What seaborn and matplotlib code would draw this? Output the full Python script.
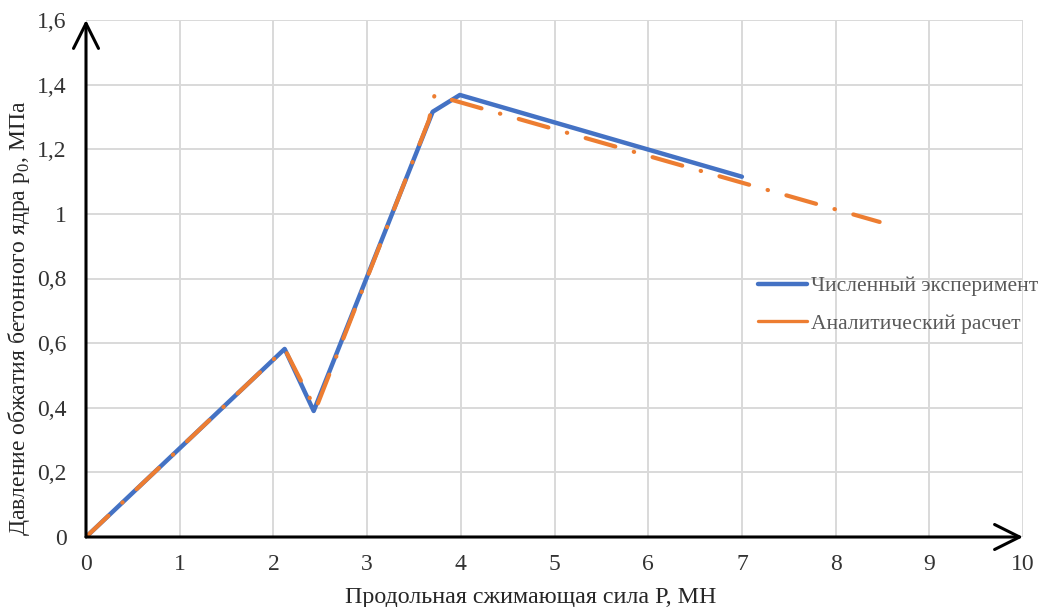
import matplotlib
matplotlib.use('Agg')
import pandas as pd
import matplotlib.pyplot as plt
from matplotlib.lines import Line2D
import seaborn as sns

# данные
num_x = [0, 2.12, 2.43, 3.70, 3.99, 7.0]
num_y = [0, 0.582, 0.39, 1.316, 1.368, 1.115]
an_x = [0, 2.12, 2.45, 3.66, 3.72, 8.47]
an_y = [0, 0.582, 0.395, 1.29, 1.368, 0.975]
x_ticks = [0, 1, 2, 3, 4, 5, 6, 7, 8, 9, 10]
y_ticks = [0, 0.2, 0.4, 0.6, 0.8, 1.0, 1.2, 1.4, 1.6]
y_tick_labels = ['0', '0,2', '0,4', '0,6', '0,8', '1', '1,2', '1,4', '1,6']

sns.set_theme(style='white')
plt.rcParams['font.family'] = ['Liberation Serif', 'DejaVu Serif']
plt.rcParams['mathtext.fontset'] = 'custom'
plt.rcParams['mathtext.rm'] = 'Liberation Serif'

blue = '#4472C4'
orange = '#ED7D31'

num_df = pd.DataFrame({'P': num_x, 'p0': num_y})
an_df = pd.DataFrame({'P': an_x, 'p0': an_y})

fig = plt.figure(figsize=(10.38, 6.07), dpi=100)
ax = fig.add_axes([86 / 1038, 1 - 537 / 607, 937 / 1038, 517 / 607])

sns.lineplot(data=num_df, x='P', y='p0', ax=ax, color=blue, linewidth=3.2,
             sort=False, estimator=None, zorder=3)
sns.lineplot(data=an_df, x='P', y='p0', ax=ax, color=orange, linewidth=3.0,
             sort=False, estimator=None, zorder=4,
             linestyle=(0, (7.4, 4.6, 0.1, 4.6)), dash_capstyle='round')

ax.set_xlim(0, 10)
ax.set_ylim(0, 1.6)
ax.set_xticks(x_ticks)
ax.set_xticklabels([str(t) for t in x_ticks])
ax.set_yticks(y_ticks)
ax.set_yticklabels(y_tick_labels)
ax.tick_params(axis='both', length=0, labelsize=17, labelcolor='#333333')
ax.tick_params(axis='x', pad=12)
ax.tick_params(axis='y', pad=14)

ax.grid(True, color='#d9d9d9', linewidth=1.4, zorder=0)
ax.set_axisbelow(True)
for s in ax.spines.values():
    s.set_visible(False)

# оси со стрелками
arrow = dict(arrowstyle='->,head_length=0.6,head_width=0.3', lw=2.2, color='black',
             shrinkA=0, shrinkB=0, mutation_scale=30)
ax.annotate('', xy=(0, 1), xytext=(0, 0), xycoords='axes fraction',
            arrowprops=arrow, annotation_clip=False, zorder=5)
ax.annotate('', xy=(1, 0), xytext=(0, 0), xycoords='axes fraction',
            arrowprops=arrow, annotation_clip=False, zorder=5)

ax.set_xlabel('Продольная сжимающая сила Р, МН', fontsize=17.3, color='#262626')
ax.set_ylabel(r'Давление обжатия бетонного ядра р$_{\mathrm{0}}$, МПа', fontsize=17, color='#262626')
ax.xaxis.set_label_coords(0.475, -0.097)
ax.yaxis.set_label_coords(-0.058, 0.424)

handles = [Line2D([], [], color=blue, linewidth=3.2),
           Line2D([], [], color=orange, linewidth=2.4)]
leg = ax.legend(handles, ['Численный эксперимент', 'Аналитический расчет'],
                loc='center left', bbox_to_anchor=(0.696, 0.449), frameon=False,
                fontsize=15.5, handlelength=2.3, handletextpad=0.19, labelspacing=0.8)
for t in leg.get_texts():
    t.set_color('#595959')

fig.savefig('out.png', dpi=100)
